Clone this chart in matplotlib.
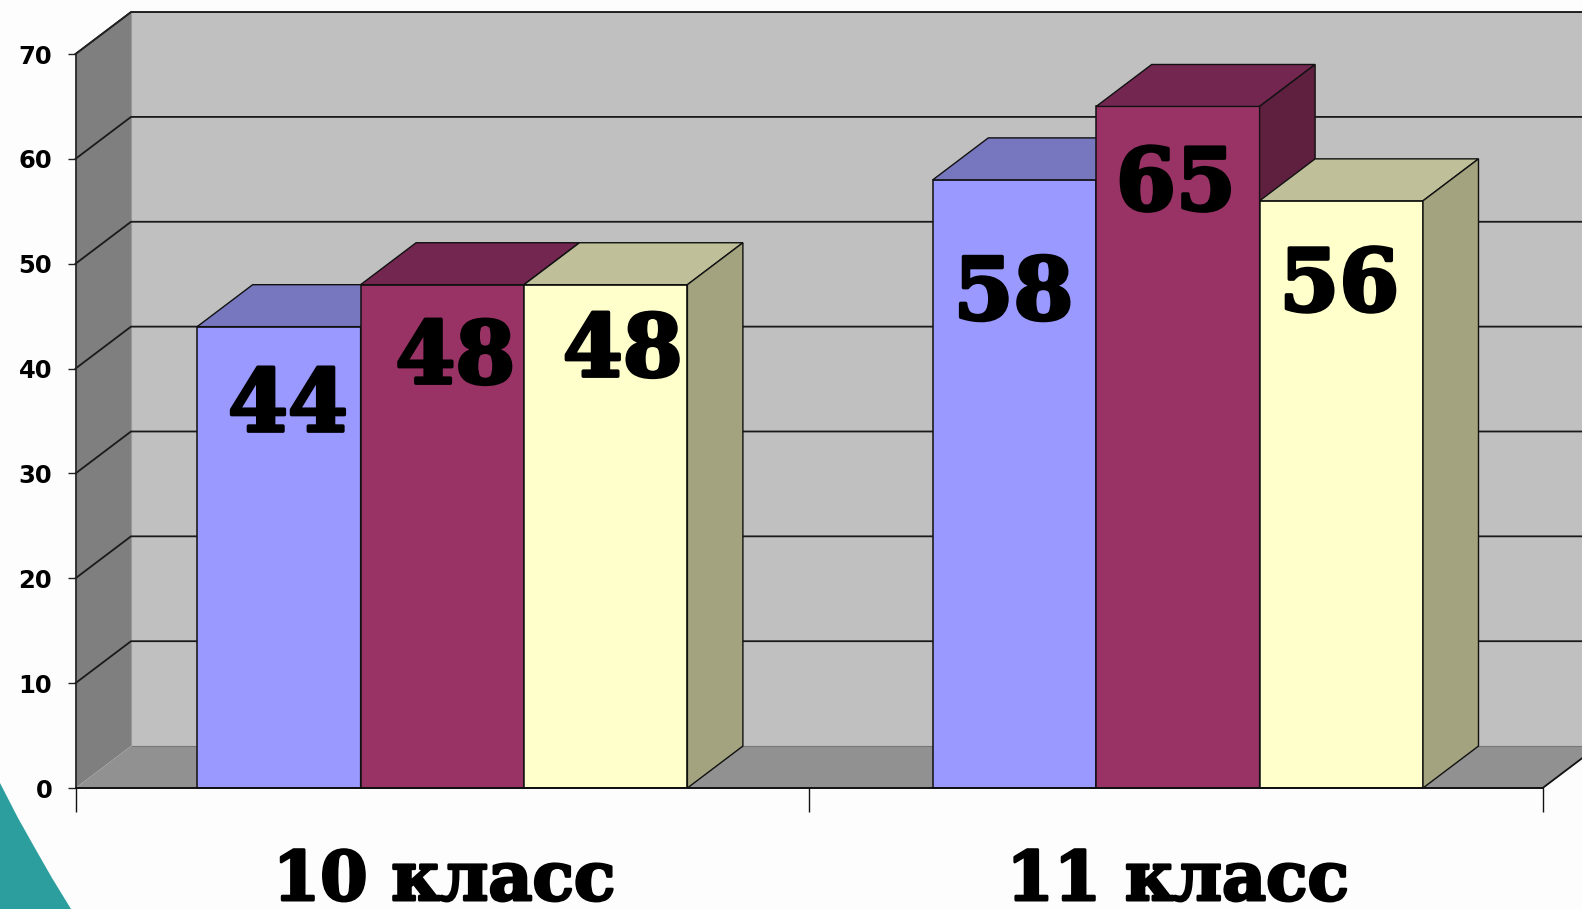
import matplotlib
matplotlib.use('Agg')
import matplotlib.pyplot as plt
import matplotlib.patheffects as pe
from matplotlib.patches import Polygon
from matplotlib.transforms import Affine2D
import numpy as np

categories = ['10 класс', '11 класс']
series_a = [44, 58]
series_b = [48, 65]
series_c = [48, 56]
yticks = [0, 10, 20, 30, 40, 50, 60, 70]

front_colors = ['#9999FF', '#993366', '#FFFFCC']
top_colors = ['#7777C0', '#732650', '#BFBF99']
side_colors = ['#5F5FA0', '#5F2040', '#A3A37F']

W, H = 1582, 909
fig = plt.figure(figsize=(W / 100, H / 100), dpi=100, facecolor='#FDFDFD')

# teal corner of the slide behind the chart (pixel coords, y down)
corner = Polygon([(0, 783), (18, 818), (36, 850), (52, 878), (71, 909), (0, 909)],
                 closed=True, facecolor='#2C9E9E', edgecolor='none')
corner.set_transform(Affine2D().scale(1, -1).translate(0, H))
fig.add_artist(corner)

ax = fig.add_axes([75.5 / W, (H - 788) / H, 1467.2 / W, 734 / H])
ax.patch.set_visible(False)
ax.set_xlim(0, 2)
ax.set_ylim(0, 70)

# depth of the fake 3d box, in data units
dx = 55.5 / 733.6
dy = 4.0


def face(pts, color, z, ec='#111111', lw=1.0):
    ax.add_patch(Polygon(pts, closed=True, facecolor=color, edgecolor=ec,
                         linewidth=lw, clip_on=False, zorder=z))


# walls
face([(dx, dy), (2 + dx, dy), (2 + dx, 70 + dy), (dx, 70 + dy)], '#C0C0C0', 1, ec='none')
face([(0, 0), (dx, dy), (dx, 70 + dy), (0, 70)], '#7F7F7F', 1, ec='none')
face([(0, 0), (2, 0), (2 + dx, dy), (dx, dy)], '#919191', 1, ec='none')
ax.plot([dx, 2 + dx], [dy, dy], color='#777777', lw=0.8, clip_on=False, zorder=1.2)
ax.plot([dx, dx], [dy, 70 + dy], color='#999999', lw=0.8, clip_on=False, zorder=1.2)
ax.plot([2, 2 + dx], [0, dy], color='#111111', lw=1.3, clip_on=False, zorder=1.2)

# gridlines run across the back wall and down the left wall
for v in yticks[1:]:
    ax.plot([0, dx, 2 + dx], [v, v + dy, v + dy], color='#1A1A1A', lw=1.3,
            clip_on=False, zorder=1.5)

# bars, second group sits 2px right of the exact category centre
bar_w = 163.4 / 733.6
x0 = np.arange(len(categories)) + 0.5
group_shift = [0, 2 / 733.6]
all_series = [series_a, series_b, series_c]
z = 3
for i, x in enumerate(x0):
    for j, vals in enumerate(all_series):
        left = x + group_shift[i] + (j - 1.5) * bar_w
        v = vals[i]
        ax.bar(left, v, bar_w, align='edge', color=front_colors[j], edgecolor='#111111',
               linewidth=1.1, clip_on=False, zorder=z)
        right = left + bar_w
        face([(left, v), (right, v), (right + dx, v + dy), (left + dx, v + dy)],
             top_colors[j], z, lw=1.0)
        face([(right, 0), (right + dx, dy), (right + dx, v + dy), (right, v)],
             side_colors[j], z, lw=1.0)
        z += 0.1

# data labels, nudged off the bar centres as in the slide (offset in px)
label_dx = [[9, 13, 17], [-1, -2, -2]]
label_dy = [[-71.5, -65.5, -58.5], [-106.5, -70.5, -77]]
heavy = [pe.withStroke(linewidth=2.5, foreground='black')]
for i, x in enumerate(x0):
    for j, vals in enumerate(all_series):
        cx = x + group_shift[i] + (j - 1) * bar_w
        ax.annotate(str(vals[i]), (cx, vals[i]),
                    xytext=(label_dx[i][j] * 0.72, label_dy[i][j] * 0.72),
                    textcoords='offset points', ha='center', va='center_baseline',
                    fontsize=62, fontweight='bold', family='DejaVu Serif',
                    color='black', zorder=10, annotation_clip=False,
                    path_effects=heavy)

# axes
for s in ['top', 'right']:
    ax.spines[s].set_visible(False)
ax.spines['left'].set_color('#222222')
ax.spines['left'].set_zorder(2)
ax.spines['left'].set_linewidth(1.2)
ax.spines['bottom'].set_color('#111111')
ax.spines['bottom'].set_linewidth(1.4)
ax.spines['bottom'].set_zorder(8)
ax.plot([0, dx, 2 + dx], [70, 70 + dy, 70 + dy], color='#222222', lw=1.2,
        clip_on=False, zorder=2)

ax.set_yticks(yticks)
ax.tick_params(axis='y', length=5.8, width=1.0, color='#222222', pad=11, labelsize=17.5)
for t in ax.get_yticklabels():
    t.set_fontweight('bold')

ax.set_xticks([0, 1, 2])
ax.set_xticklabels([])
ax.tick_params(axis='x', which='major', length=17, width=1.0, color='#111111')
ax.set_xticks(x0 + 1.5 / 733.6, minor=True)
ax.set_xticklabels(categories, minor=True, fontsize=49, fontweight='bold',
                   family='DejaVu Serif', path_effects=[pe.withStroke(linewidth=2, foreground='black')])
ax.tick_params(axis='x', which='minor', length=0, pad=44)

fig.savefig('out.png', dpi=100, facecolor=fig.get_facecolor())
